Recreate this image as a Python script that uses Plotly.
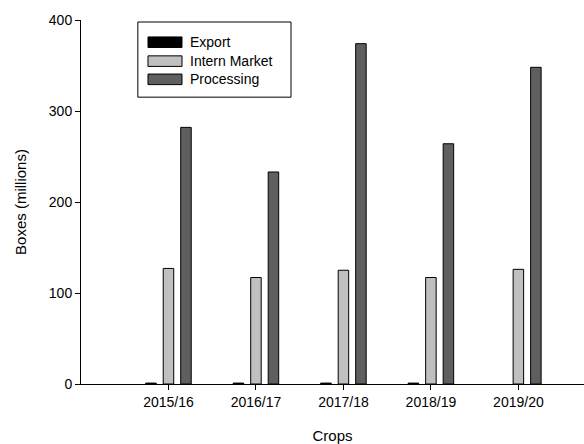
import plotly.graph_objects as go

crops = ["2015/16", "2016/17", "2017/18", "2018/19", "2019/20"]
export = [1.0, 1.0, 1.0, 1.0, None]
intern_market = [127, 117, 125, 117, 126]
processing = [282, 233, 374, 264, 348]

series = [
    ("Export", export, "#000000"),
    ("Intern Market", intern_market, "#c0c0c0"),
    ("Processing", processing, "#5f5f5f"),
]

fig = go.Figure()
for name, vals, col in series:
    fig.add_trace(go.Bar(x=crops, y=vals, name=name, marker=dict(color=col, line=dict(color="black", width=1)),
                         showlegend=False))

FONT = "Liberation Sans, Arial, sans-serif"

# custom legend (box, swatches, labels) in paper coords
shapes = [dict(type="rect", xref="paper", yref="paper", x0=0.113, x1=0.4175, y0=0.788, y1=0.9945,
               line=dict(color="black", width=1), fillcolor="white", layer="above")]
annotations = []
rows_y = [0.939, 0.887, 0.837]
for (name, vals, col), yy in zip(series, rows_y):
    shapes.append(dict(type="rect", xref="paper", yref="paper", x0=0.1332, x1=0.2008,
                       y0=yy - 0.0145, y1=yy + 0.0145, line=dict(color="black", width=1),
                       fillcolor=col, layer="above"))
    annotations.append(dict(xref="paper", yref="paper", x=0.212, y=yy, text=name, showarrow=False,
                            xanchor="left", yanchor="middle", font=dict(family=FONT, size=14, color="black")))

fig.update_layout(
    width=584, height=444,
    margin=dict(l=81, r=0, t=20, b=60),
    paper_bgcolor="white", plot_bgcolor="white",
    barmode="group", bargap=0.4, bargroupgap=0.4,
    font=dict(family=FONT, size=14, color="black"),
    shapes=shapes, annotations=annotations,
    xaxis=dict(type="category", range=[-1, 4.75], showline=True, linecolor="black", linewidth=1,
               ticks="outside", ticklen=5, tickcolor="black", showgrid=False, zeroline=False,
               title=dict(text="Crops", font=dict(size=15), standoff=21),
               tickfont=dict(size=14)),
    yaxis=dict(range=[0, 400], tickvals=[0, 100, 200, 300, 400], showline=True, linecolor="black",
               linewidth=1, ticks="outside", ticklen=5, tickcolor="black", showgrid=False, zeroline=False,
               title=dict(text="Boxes (millions)", font=dict(size=15), standoff=18),
               tickfont=dict(size=14)),
)

fig.write_html("out.html")
